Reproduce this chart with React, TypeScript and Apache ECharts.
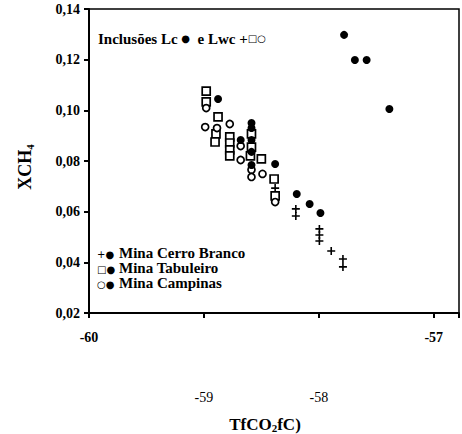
import React, { useEffect, useRef } from "react";
import * as echarts from "echarts";

// Mina Cerro Branco (Lwc, +)
const cerroBrancoLwc: [number, number][] = [
  [-58.38, 0.0693], [-58.2, 0.0611], [-58.2, 0.0583], [-57.995, 0.0532],
  [-57.995, 0.0508], [-57.995, 0.0484], [-57.892, 0.0445], [-57.79, 0.0413], [-57.79, 0.0382],
];
// Mina Tabuleiro (Lwc, square)
const tabuleiroLwc: [number, number][] = [
  [-58.98, 0.1076], [-58.98, 0.1033], [-58.877, 0.0974], [-58.895, 0.0907], [-58.903, 0.0875],
  [-58.775, 0.0895], [-58.775, 0.0871], [-58.775, 0.0844], [-58.775, 0.082],
  [-58.586, 0.0907], [-58.586, 0.0855], [-58.595, 0.082], [-58.5, 0.0808],
  [-58.389, 0.0729], [-58.38, 0.0662],
];
// Mina Campinas (Lwc, circle)
const campinasLwc: [number, number][] = [
  [-58.98, 0.1009], [-58.989, 0.0934], [-58.886, 0.093], [-58.775, 0.0946],
  [-58.68, 0.0859], [-58.68, 0.0804], [-58.586, 0.0765], [-58.586, 0.0737],
  [-58.49, 0.0749], [-58.38, 0.0638],
];
// Lc inclusions (filled circle)
const cerroBrancoLc: [number, number][] = [
  [-58.38, 0.0788], [-58.192, 0.067], [-58.08, 0.063], [-57.986, 0.0595],
];
const tabuleiroLc: [number, number][] = [
  [-58.877, 0.1045], [-58.68, 0.0883], [-58.586, 0.095], [-58.586, 0.093],
  [-58.586, 0.0883], [-58.586, 0.0836], [-58.586, 0.0784],
];
const campinasLc: [number, number][] = [
  [-57.78, 0.1298], [-57.686, 0.1199], [-57.584, 0.1199], [-57.386, 0.1005],
];

const xBoldTicks = [-60, -57];
const xPlainTicks = [-59, -58];
const legendRows = [
  { sym: "+●", label: "Mina Cerro Branco" },
  { sym: "□●", label: "Mina Tabuleiro" },
  { sym: "○●", label: "Mina Campinas" },
];

const SERIF = "'Liberation Serif', 'DejaVu Serif', serif";
const SYMFONT = "'DejaVu Sans', sans-serif";
const PLUS = "path://M4 0h2v4h4v2h-4v4h-2v-4h-4v-2h4z";
const NBSP = "\u00a0";

export default function App() {
  const ref = useRef<HTMLDivElement>(null);
  useEffect(() => {
    if (!ref.current) return;
    const chart = echarts.init(ref.current, undefined, { renderer: "svg" });
    const open = { color: "#fff", borderColor: "#000", borderWidth: 1.7, opacity: 1 };
    const filled = { color: "#000", opacity: 1 };
    const isTick = (v: number, list: number[]) =>
      Math.abs(v - Math.round(v)) < 1e-6 && list.includes(Math.round(v));
    chart.setOption({
      animation: false,
      backgroundColor: "#fff",
      grid: {
        left: 89, top: 9, right: -3, bottom: 121,
        show: true, borderColor: "#000", borderWidth: 1.5,
      },
      xAxis: [
        {
          type: "value", min: -60, max: -56.78, interval: 1,
          axisLine: { show: true, lineStyle: { color: "#000", width: 2 } },
          axisTick: { show: true, inside: false, length: 5, lineStyle: { color: "#000", width: 2 } },
          splitLine: { show: false },
          axisLabel: {
            margin: 17, color: "#000", fontFamily: SERIF, fontWeight: "bold", fontSize: 14,
            formatter: (v: number) => (isTick(v, xBoldTicks) ? String(Math.round(v)) : ""),
          },
        },
        {
          type: "value", min: -60, max: -56.78, interval: 1, position: "bottom",
          axisLine: { show: false }, axisTick: { show: false }, splitLine: { show: false },
          axisLabel: {
            margin: 77, color: "#000", fontFamily: SERIF, fontSize: 14,
            formatter: (v: number) => (isTick(v, xPlainTicks) ? String(Math.round(v)) : ""),
          },
        },
      ],
      yAxis: {
        type: "value", min: 0.02, max: 0.14, interval: 0.02,
        axisLine: { show: true, lineStyle: { color: "#000", width: 2 } },
        axisTick: { show: true, inside: false, length: 5, lineStyle: { color: "#000", width: 2 } },
        splitLine: { show: false },
        axisLabel: {
          margin: 9, color: "#000", fontFamily: SERIF, fontWeight: "bold", fontSize: 14,
          formatter: (v: number) => v.toFixed(2).replace(".", ","),
        },
      },
      graphic: [
        {
          type: "text", left: 98, top: 31,
          style: {
            text: `{t|Inclusões Lc${NBSP}}{s|●}{t|${NBSP}${NBSP}e Lwc +}{s|□○}`,
            rich: {
              t: { fontFamily: SERIF, fontWeight: "bold", fontSize: 15, fill: "#000", color: "#000" },
              s: { fontFamily: SYMFONT, fontSize: 10, fill: "#000", color: "#000" },
            },
          },
        },
        ...legendRows.flatMap((r, i) => [
          {
            type: "text", left: 97, top: 249 + i * 15,
            style: { text: r.sym, font: `10px ${SYMFONT}`, fill: "#000" },
          },
          {
            type: "text", left: 119, top: 245 + i * 15,
            style: { text: r.label, font: `bold 15px ${SERIF}`, fill: "#000" },
          },
        ]),
        {
          type: "text", x: 265, y: 424,
          style: {
            text: "{a|TfCO}{b|2}{a|fC)}",
            align: "center", verticalAlign: "middle",
            rich: {
              a: { fontFamily: SERIF, fontWeight: "bold", fontSize: 17, fill: "#000", color: "#000" },
              b: { fontFamily: SERIF, fontWeight: "bold", fontSize: 11, fill: "#000", color: "#000", padding: [8, 0, 0, 0] },
            },
          },
        },
        {
          type: "text", x: 25, y: 167, rotation: Math.PI / 2,
          style: {
            text: "{a|XCH}{b|4}",
            align: "center", verticalAlign: "middle",
            rich: {
              a: { fontFamily: SERIF, fontWeight: "bold", fontSize: 18, fill: "#000", color: "#000" },
              b: { fontFamily: SERIF, fontWeight: "bold", fontSize: 11, fill: "#000", color: "#000", padding: [9, 0, 0, 0] },
            },
          },
        },
      ],
      series: [
        { name: "Tabuleiro Lwc", type: "scatter", data: tabuleiroLwc, symbol: "rect", symbolSize: 8, itemStyle: open },
        { name: "Campinas Lwc", type: "scatter", data: campinasLwc, symbol: "circle", symbolSize: 7, itemStyle: open },
        { name: "Cerro Branco Lwc", type: "scatter", data: cerroBrancoLwc, symbol: PLUS, symbolSize: 8, itemStyle: filled },
        { name: "Cerro Branco Lc", type: "scatter", data: cerroBrancoLc, symbol: "circle", symbolSize: 8, itemStyle: filled },
        { name: "Tabuleiro Lc", type: "scatter", data: tabuleiroLc, symbol: "circle", symbolSize: 8, itemStyle: filled },
        { name: "Campinas Lc", type: "scatter", data: campinasLc, symbol: "circle", symbolSize: 8, itemStyle: filled },
      ],
    });
    return () => chart.dispose();
  }, []);
  return <div ref={ref} style={{ position: "absolute", left: 0, top: 0, width: 462, height: 434 }} />;
}
